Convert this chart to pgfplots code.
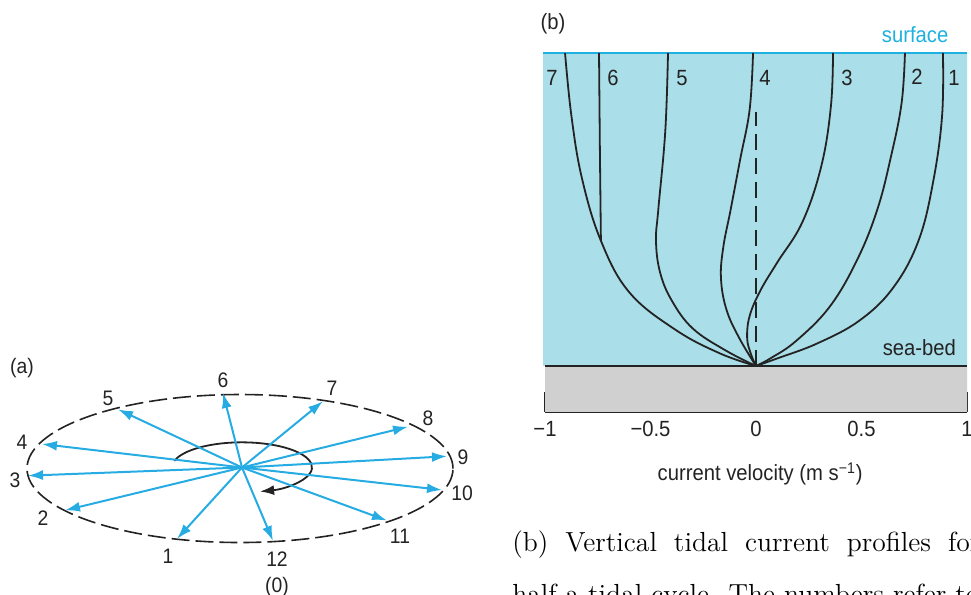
\documentclass[border=0pt]{standalone}
\usepackage{pgfplots}
\pgfplotsset{compat=1.18}
\usepackage{pgfplotstable}
\usetikzlibrary{arrows.meta}
\usepackage{fontspec}
\newfontfamily\lab{Liberation Sans}[FakeStretch=0.92]
\definecolor{seablue}{RGB}{170,222,232}
\definecolor{surfcyan}{RGB}{30,176,222}
\definecolor{arrowblue}{RGB}{38,172,226}
\definecolor{bedgray}{RGB}{208,208,208}
\definecolor{ink}{RGB}{35,35,35}

\pgfplotstableread{
x y u v
242 125 -65 -70
242 125 -177 -42
242 125 -214 -8
242 125 -200 23
242 125 -124 57
242 125 -19 73
242 125 81 65
242 125 166 40
242 125 205 11
242 125 200 -22
242 125 145 -52
242 125 31 -72
}\arrowdata

\begin{document}
\begin{tikzpicture}
\useasboundingbox (0,0) rectangle (485.5pt,297.5pt);
\clip (0,0) rectangle (485.5pt,297.5pt);

% ---------------- panel (a)
\begin{axis}[
  at={(0pt,0pt)}, anchor=south west,
  scale only axis, width=240pt, height=117.5pt,
  xmin=0, xmax=480, ymin=0, ymax=235,
  hide axis, clip=false,
]
\draw[ink, dash pattern=on 9pt off 3pt, line width=0.8pt]
  (axis cs:240,124) ellipse [x radius=106.5pt, y radius=37pt];
\draw[ink, line width=0.9pt, -{Latex[length=7pt,width=5pt]}]
  (axis cs:174.4,131.5) arc[start angle=165, end angle=-75, x radius=35pt, y radius=12.5pt];
\addplot[arrowblue, line width=1pt, -{Latex[length=7.5pt,width=5pt]},
  quiver={u=\thisrow{u}, v=\thisrow{v}}] table[x=x, y=y] {\arrowdata};
\begin{scope}[every node/.style={font=\lab\fontsize{10.5}{12}\selectfont, text=ink}]
\node at (axis cs:168,38) {1};
\node at (axis cs:43,75) {2};
\node at (axis cs:15,112) {3};
\node at (axis cs:22,150) {4};
\node at (axis cs:108,193) {5};
\node at (axis cs:223,211) {6};
\node at (axis cs:332,203) {7};
\node at (axis cs:428,173) {8};
\node at (axis cs:463,135) {9};
\node at (axis cs:462,100) {10};
\node at (axis cs:400,58) {11};
\node at (axis cs:277,35) {12};
\node at (axis cs:277,8) {(0)};
\node at (axis cs:22,222) {(a)};
\end{scope}
\end{axis}

% ---------------- panel (b)
\begin{axis}[
  at={(272.5pt,91.5pt)}, anchor=south west,
  scale only axis, width=211pt, height=179.5pt,
  xmin=-1, xmax=1, ymin=-0.147, ymax=1,
  axis x line*=bottom, axis y line=none,
  axis line style={ink, line width=1pt},
  xtick={-1,-0.5,0,0.5,1},
  xticklabels={−1,−0.5,0,0.5,1},
  tick align=inside, major tick length=10pt,
  tick style={ink, line width=1pt},
  xticklabel style={font=\lab\fontsize{11}{13}\selectfont, text=ink, yshift=-1pt},
  xlabel={current velocity (m s\textsuperscript{−1})},
  xlabel style={font=\lab\fontsize{11}{13}\selectfont, text=ink,
    at={(axis description cs:0.51,0)}, anchor=center, yshift=-31pt},
  clip=false,
  every axis plot/.append style={smooth, tension=0.65},
]
\addplot[fill=seablue, draw=none, sharp plot] coordinates {(-1.009,0) (1,0) (1,1) (-1.009,1) (-1.009,0)};
\addplot[fill=bedgray, draw=none, sharp plot] coordinates {(-1,-0.147) (1,-0.147) (1,0) (-1,0) (-1,-0.147)};
\addplot[surfcyan, line width=1.1pt, sharp plot] coordinates {(-1.009,1) (1,1)};
\addplot[ink, line width=1pt, sharp plot] coordinates {(-1,0) (1,0)};
\addplot[ink, line width=0.8pt, dash pattern=on 8pt off 4pt, sharp plot] coordinates {(0,0) (0,0.81)};
% curve 7
\addplot[ink, line width=0.9pt] coordinates {
(-0.905,1) (-0.875,0.80) (-0.825,0.60) (-0.735,0.40) (-0.60,0.235)
(-0.38,0.115) (-0.17,0.04) (0,0)};
% curve 6
\addplot[ink, line width=0.9pt, sharp plot] coordinates {
(-0.744,1) (-0.74,0.70) (-0.735,0.40)};
% curve 5
\addplot[ink, line width=0.9pt] coordinates {
(-0.417,1) (-0.43,0.75) (-0.463,0.5) (-0.474,0.4) (-0.455,0.3)
(-0.40,0.21) (-0.30,0.12) (-0.145,0.05) (0,0)};
% curve 4
\addplot[ink, line width=0.9pt] coordinates {
(-0.014,1) (-0.03,0.82) (-0.075,0.66) (-0.12,0.5) (-0.155,0.38)
(-0.166,0.28) (-0.14,0.18) (-0.08,0.09) (0,0)};
% curve 3
\addplot[ink, line width=0.9pt] coordinates {
(0.365,1) (0.355,0.83) (0.31,0.64) (0.22,0.46) (0.10,0.33)
(0.02,0.24) (-0.03,0.16) (-0.042,0.09) (-0.025,0.04) (0,0)};
% curve 2
\addplot[ink, line width=0.9pt] coordinates {
(0.706,1) (0.69,0.84) (0.64,0.67) (0.575,0.5) (0.48,0.34)
(0.35,0.19) (0.19,0.08) (0.07,0.025) (0,0)};
% curve 1
\addplot[ink, line width=0.9pt] coordinates {
(0.886,1) (0.882,0.8) (0.84,0.59) (0.77,0.4) (0.65,0.25)
(0.49,0.145) (0.29,0.072) (0.10,0.024) (0,0)};
\begin{scope}[every node/.style={font=\lab\fontsize{11}{13}\selectfont, text=ink}]
\node at (axis cs:-0.967,0.92) {7};
\node at (axis cs:-0.678,0.92) {6};
\node at (axis cs:-0.351,0.92) {5};
\node at (axis cs:0.043,0.92) {4};
\node at (axis cs:0.431,0.92) {3};
\node at (axis cs:0.763,0.925) {2};
\node at (axis cs:0.938,0.92) {1};
\node at (axis cs:-0.962,1.093) {(b)};
\node[anchor=east] at (axis cs:0.981,0.058) {sea-bed};
\node[anchor=east, text=surfcyan] at (axis cs:0.945,1.058) {surface};
\end{scope}
\end{axis}

% ---------------- caption
\node[anchor=base west, inner sep=0pt] at (256pt,21.5pt)
  {\fontsize{13.8}{16}\selectfont\spaceskip=8.5pt (b) Vertical tidal current profiles for};
\node[anchor=base west, inner sep=0pt] at (256pt,-4.5pt)
  {\fontsize{13.8}{16}\selectfont half a tidal cycle. The numbers refer to};
\end{tikzpicture}
\end{document}
